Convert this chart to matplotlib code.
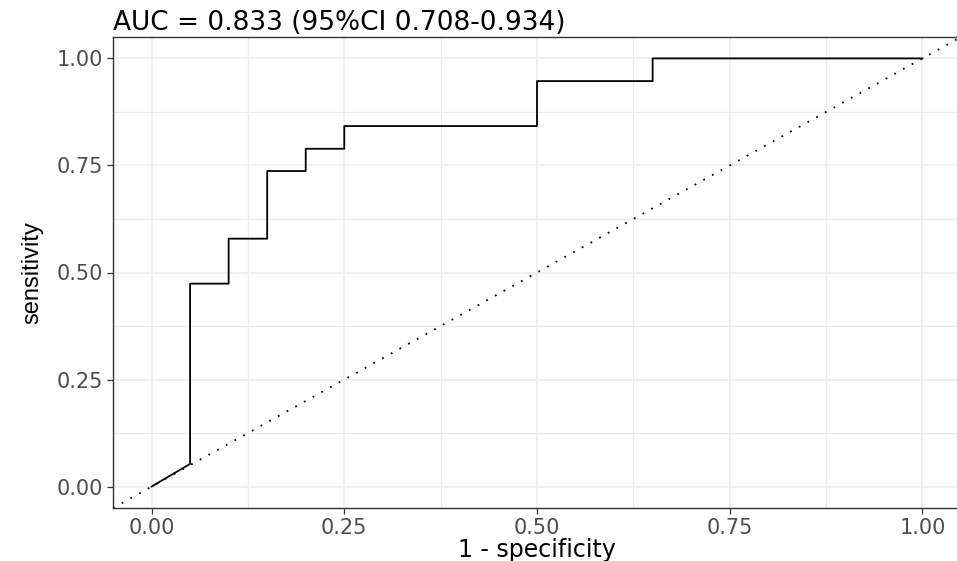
import matplotlib
matplotlib.use("Agg")
import matplotlib.pyplot as plt
from matplotlib.ticker import MultipleLocator

# ROC step curve (1 - specificity vs sensitivity)
fpr = [0.00, 0.05, 0.05, 0.10, 0.10, 0.15, 0.15, 0.20, 0.20, 0.25, 0.25, 0.50, 0.50, 0.65, 0.65, 1.00]
tpr = [0.000, 0.053, 0.474, 0.474, 0.579, 0.579, 0.737, 0.737, 0.789, 0.789, 0.842, 0.842, 0.947, 0.947, 1.000, 1.000]
tick_vals = [0.00, 0.25, 0.50, 0.75, 1.00]
tick_labels = ["0.00", "0.25", "0.50", "0.75", "1.00"]
title = "AUC = 0.833 (95%CI 0.708-0.934)"

fig = plt.figure(figsize=(9.57, 5.61), dpi=100)
ax = fig.add_axes([113 / 957, 1 - 508 / 561, 848 / 957, 471 / 561])

# reference diagonal across the whole panel
ax.axline((0, 0), (1, 1), color="black", lw=1.3, linestyle=(0, (1, 4.5)), zorder=2)
ax.plot(fpr, tpr, color="black", lw=1.3, zorder=3)

ax.set_xlim(-0.05, 1.05)
ax.set_ylim(-0.05, 1.05)
ax.set_xticks(tick_vals)
ax.set_xticklabels(tick_labels)
ax.set_yticks(tick_vals)
ax.set_yticklabels(tick_labels)
ax.xaxis.set_minor_locator(MultipleLocator(0.125))
ax.yaxis.set_minor_locator(MultipleLocator(0.125))

ax.grid(which="major", color="#EBEBEB", lw=1.1, zorder=0)
ax.grid(which="minor", color="#EBEBEB", lw=0.9, zorder=0)
ax.set_axisbelow(True)

for s in ax.spines.values():
    s.set_color("#333333")
    s.set_linewidth(1.0)
ax.spines["right"].set_visible(False)  # panel runs off the right edge

ax.tick_params(which="major", length=4, width=0.9, color="#333333",
               labelsize=15, labelcolor="#4D4D4D", pad=3)
ax.tick_params(which="minor", length=0)
for lab in ax.get_xticklabels() + ax.get_yticklabels():
    lab.set_family("DejaVu Sans")

ax.set_xlabel("1 - specificity", fontsize=17, family="DejaVu Sans", labelpad=0)
ax.set_ylabel("sensitivity", fontsize=17, family=["Liberation Sans Narrow", "Liberation Sans"], labelpad=10)
ax.set_title(title, loc="left", fontsize=19, family="DejaVu Sans", pad=5)

fig.savefig("out.png", dpi=100)
